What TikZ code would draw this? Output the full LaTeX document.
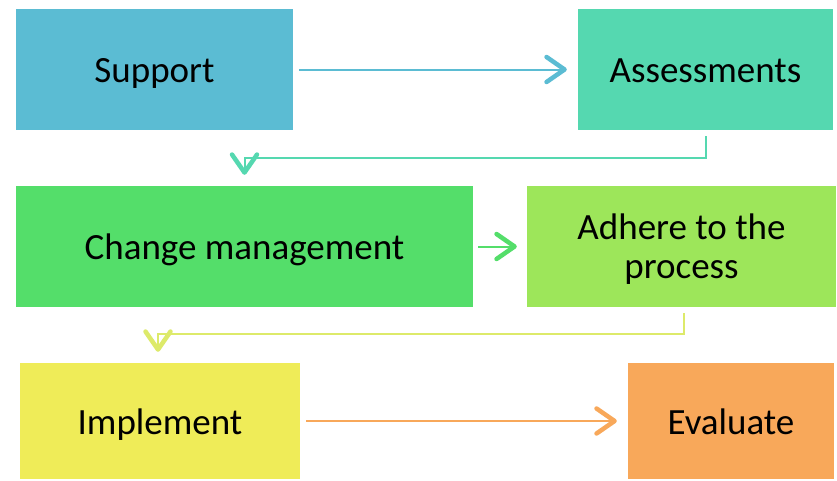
\documentclass[tikz,border=0pt]{standalone}
\usepackage{fontspec}
\setmainfont{Carlito}
\usetikzlibrary{arrows.meta,calc}
\definecolor{cSup}{HTML}{5BBCD3}
\definecolor{cAss}{HTML}{55D8B0}
\definecolor{cChg}{HTML}{54DE6A}
\definecolor{cAdh}{HTML}{9DE65A}
\definecolor{cImp}{HTML}{EFEC58}
\definecolor{cEva}{HTML}{F8A85A}
\definecolor{cYel}{HTML}{DDEA6A}
\tikzset{
  box/.style={draw=none,inner sep=0pt,align=center,font=\fontsize{37}{38.5}\selectfont,text=black,text height=26pt,text depth=0pt},
  conn/.style={line width=2pt,-{Straight Barb[length=18pt,width=25pt,line width=4.5pt,round]}}
}
\begin{document}
\begin{tikzpicture}[x=1pt,y=-1pt]
\useasboundingbox[fill=white] (0,0) rectangle (837,480);
\node[box,fill=cSup,minimum width=277pt,minimum height=121pt] (sup) at (154.5,69.5) {Support};
\node[box,fill=cAss,minimum width=255pt,minimum height=121pt] (ass) at (705.5,69.5) {Assessments};
\node[box,fill=cChg,minimum width=457pt,minimum height=121pt] (chg) at (244.5,246.5) {Change management};
\node[box,fill=cAdh,minimum width=309pt,minimum height=121pt,text height=63pt,text depth=0pt] (adh) at (681.5,246.5) {Adhere to the\\process};
\node[box,fill=cImp,minimum width=280pt,minimum height=116pt] (imp) at (160,421) {Implement};
\node[box,fill=cEva,minimum width=206pt,minimum height=116pt] (eva) at (731,421) {Evaluate};

\draw[conn,cSup,shorten <=6pt,shorten >=11pt] (sup.east) -- (ass.west);
\draw[conn,cAss,shorten <=6pt,shorten >=11pt] (ass.south) -- ++(0,28) -| (chg.north);
\draw[conn,cChg,shorten <=5pt,shorten >=10pt] (chg.east) -- (adh.west);
\draw[conn,cYel,shorten <=6pt,shorten >=11pt] ([xshift=2.5pt]adh.south) -- ++(0,27) -| ([xshift=-2pt]imp.north);
\draw[conn,cEva,shorten <=6pt,shorten >=11pt] (imp.east) -- (eva.west);
\end{tikzpicture}
\end{document}
